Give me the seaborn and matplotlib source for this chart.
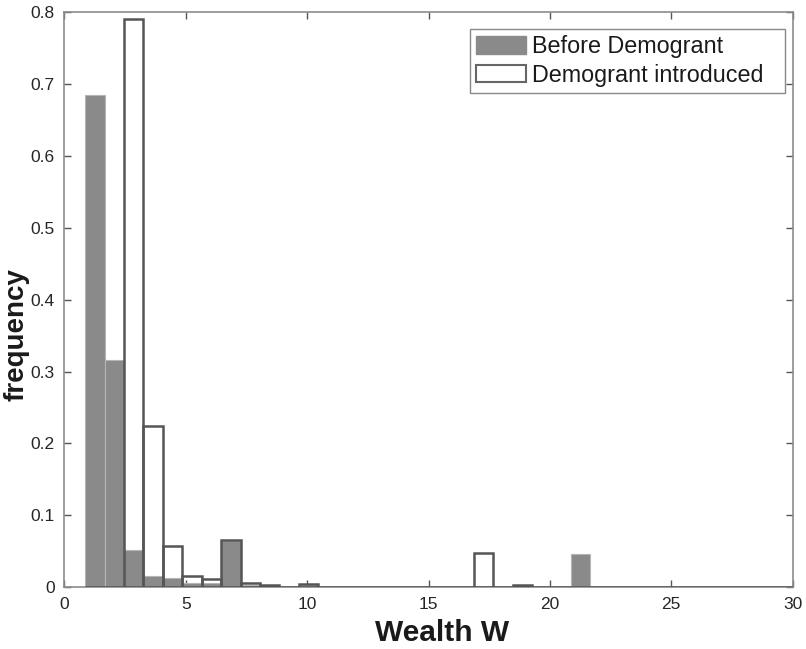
import numpy as np
import pandas as pd
import matplotlib
matplotlib.use("Agg")
import matplotlib.pyplot as plt
from matplotlib.patches import Patch
import seaborn as sns

# ---- data ----
bin_edges = [round(0.86 + 0.8 * k, 2) for k in range(38)]
before_demogrant = [0.685, 0.316, 0.052, 0.015, 0.013, 0.006, 0.006, 0.064,
                    0.003, 0.002, 0.0005, 0.003, 0, 0, 0, 0, 0, 0, 0, 0,
                    0, 0, 0, 0, 0, 0.046, 0, 0, 0, 0, 0, 0, 0, 0, 0, 0, 0]
demogrant_introduced = [0, 0, 0.791, 0.224, 0.057, 0.015, 0.011, 0.066,
                        0.0055, 0.003, 0.0005, 0.004, 0, 0, 0, 0, 0, 0, 0, 0,
                        0.048, 0, 0.003, 0, 0, 0, 0, 0, 0, 0, 0, 0, 0, 0, 0, 0, 0]
x_ticks = [0, 5, 10, 15, 20, 25, 30]
y_ticks = [0, 0.1, 0.2, 0.3, 0.4, 0.5, 0.6, 0.7, 0.8]
y_tick_labels = ["0", "0.1", "0.2", "0.3", "0.4", "0.5", "0.6", "0.7", "0.8"]
series_names = ["Before Demogrant", "Demogrant introduced"]

edges = np.array(bin_edges)
centers = (edges[:-1] + edges[1:]) / 2
df = pd.DataFrame({"center": centers,
                   "before": before_demogrant,
                   "after": demogrant_introduced})

sns.set_style("white")
plt.rcParams["font.family"] = ["Liberation Sans", "DejaVu Sans"]

fig = plt.figure(figsize=(8.06, 6.49), dpi=100)
ax = fig.add_axes([0.0798, 0.0955, 0.9037, 0.8855])

gray = "#8a8a8a"
edge_dark = "#555555"

sns.histplot(data=df, x="center", weights="before", bins=list(bin_edges),
             stat="count", element="bars", color=gray, alpha=1.0,
             edgecolor="#b5b5b5", linewidth=0.8, ax=ax, zorder=2)
sns.histplot(data=df, x="center", weights="after", bins=list(bin_edges),
             stat="count", element="bars", fill=False, color=edge_dark,
             linewidth=1.8, ax=ax, zorder=3)

ax.set_xlim(0, 30)
ax.set_ylim(0, 0.8)
ax.set_xticks(x_ticks)
ax.set_xticklabels([str(t) for t in x_ticks])
ax.set_yticks(y_ticks)
ax.set_yticklabels(y_tick_labels)
ax.tick_params(direction="in", length=5, width=1, colors="#555555",
               labelcolor="#262626", labelsize=12.5, top=True, right=True,
               bottom=True, left=True, pad=7)
for s in ax.spines.values():
    s.set_visible(True)
    s.set_color("#8c8c8c")
    s.set_linewidth(1.2)

ax.set_xlabel("Wealth W", fontsize=21.5, fontweight="bold", color="#1a1a1a")
ax.set_ylabel("frequency", fontsize=20, fontweight="bold", color="#1a1a1a")
ax.xaxis.set_label_coords(0.518, -0.055, transform=ax.transAxes)
ax.xaxis.label.set_va("top")
ax.yaxis.set_label_coords(-0.066, 0.44, transform=ax.transAxes)
ax.yaxis.label.set_va("center")

handles = [Patch(facecolor=gray, edgecolor=gray),
           Patch(facecolor="white", edgecolor="#666666", linewidth=1.5)]
leg = ax.legend(handles, series_names, loc="upper left", fontsize=16.8,
                frameon=True, fancybox=False, framealpha=1,
                edgecolor="#888888", borderpad=0.25, handlelength=2.15,
                handleheight=0.75, handletextpad=0.25, labelspacing=0.25,
                bbox_to_anchor=(0.557, 0.862, 0.4324, 0.1084),
                mode="expand", borderaxespad=0)
leg.get_frame().set_linewidth(1.0)
for t in leg.get_texts():
    t.set_color("#1a1a1a")

fig.savefig("out.png", dpi=100)
